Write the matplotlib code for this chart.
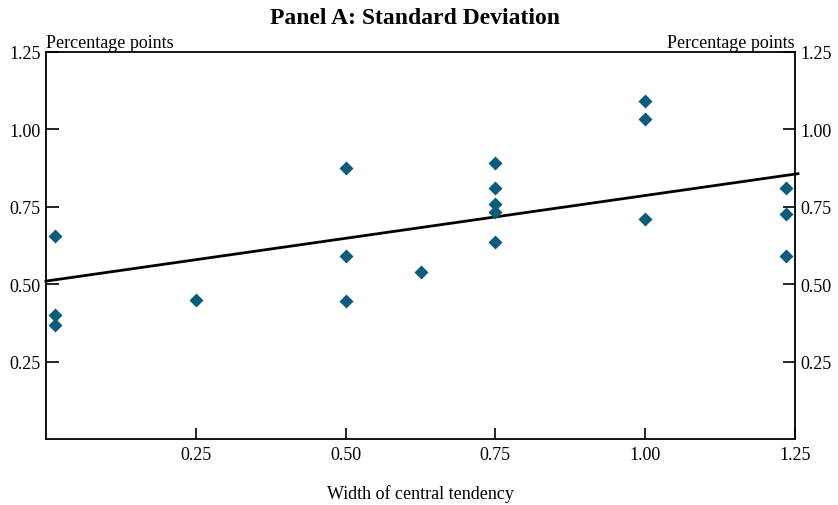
import matplotlib
matplotlib.use("Agg")
import matplotlib.pyplot as plt

# width of central tendency vs standard deviation (percentage points)
width = [0.015, 0.015, 0.015, 0.25, 0.50, 0.50, 0.50, 0.625,
         0.75, 0.75, 0.75, 0.75, 0.75, 1.00, 1.00, 1.00,
         1.235, 1.235, 1.235]
std_dev = [0.656, 0.401, 0.367, 0.448, 0.875, 0.591, 0.446, 0.540,
           0.891, 0.811, 0.759, 0.734, 0.636, 1.093, 1.034, 0.711,
           0.811, 0.728, 0.590]

# fitted line end points
fit_x = [0.0, 1.255]
fit_y = [0.510, 0.857]

x_ticks = [0.25, 0.50, 0.75, 1.00, 1.25]
y_ticks = [0.25, 0.50, 0.75, 1.00, 1.25]

plt.rcParams['font.family'] = ['Liberation Serif', 'DejaVu Serif']

fig = plt.figure(figsize=(8.38, 5.06), dpi=100)
ax = fig.add_axes([46 / 838, 1 - 440 / 506, 749 / 838, 387 / 506])

ax.plot(fit_x, fit_y, color='black', lw=2, clip_on=False, zorder=2)
ax.plot(width, std_dev, 'D', color='#0b5c7c', ms=7, mec='none', zorder=3)

ax.set_xlim(0, 1.25)
ax.set_ylim(0, 1.25)
ax.set_xticks(x_ticks)
ax.set_xticklabels(['%.2f' % v for v in x_ticks])
ax.set_yticks(y_ticks)
ax.set_yticklabels(['%.2f' % v for v in y_ticks])

for s in ax.spines.values():
    s.set_linewidth(1.3)

ax.tick_params(axis='x', direction='in', length=8, width=1.2, pad=5, labelsize=13)
ax.tick_params(axis='y', direction='in', length=9, width=1.2, pad=4, labelsize=13,
               right=True, labelright=True)

ax.set_xlabel('Width of central tendency', fontsize=13, labelpad=15)
ax.text(0, 1.003, 'Percentage points', transform=ax.transAxes, ha='left', va='bottom', fontsize=13)
ax.text(1, 1.003, 'Percentage points', transform=ax.transAxes, ha='right', va='bottom', fontsize=13)

fig.text(415 / 838, 1 - 18 / 506, 'Panel A: Standard Deviation', ha='center', va='center',
         fontsize=17, fontweight='bold')

fig.savefig('out.png', dpi=100)
